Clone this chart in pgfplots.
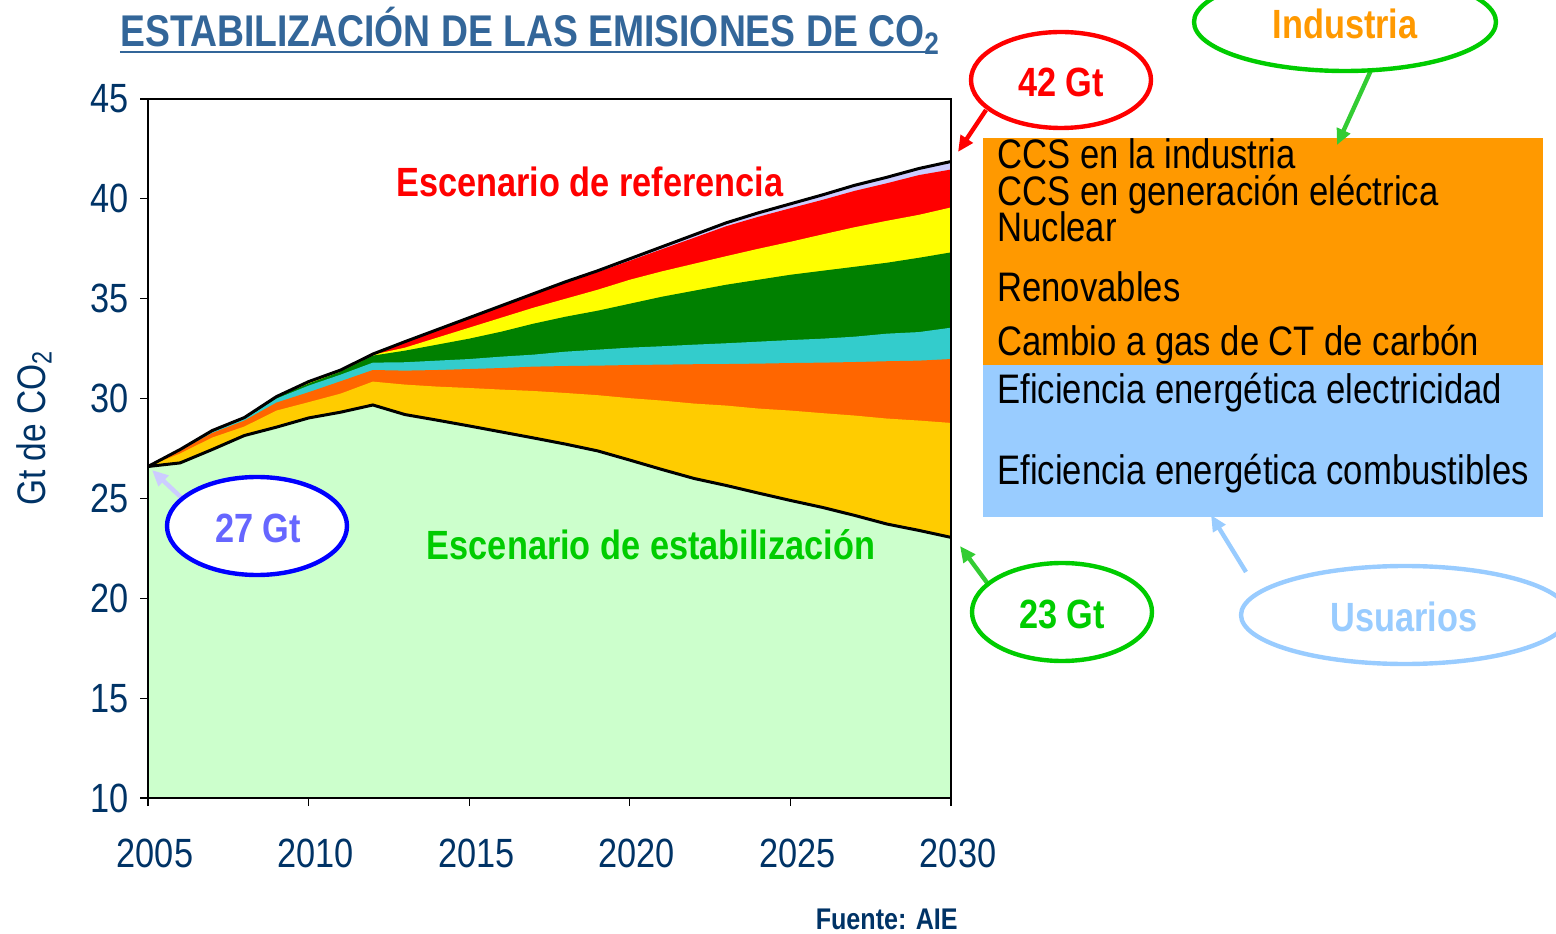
\documentclass[border=0pt]{standalone}
\usepackage{fontspec}
\setmainfont{Liberation Sans}[FakeStretch=0.84]
\usepackage{pgfplots}
\pgfplotsset{compat=1.18}
\usepackage{pgfplotstable}
\usetikzlibrary{arrows.meta}

\definecolor{axisblue}{HTML}{003366}
\definecolor{titleblue}{HTML}{336699}
\definecolor{ltgreen}{HTML}{CCFFCC}
\definecolor{gold}{HTML}{FFCC00}
\definecolor{orng}{HTML}{FF6600}
\definecolor{cyn}{HTML}{33CCCC}
\definecolor{grn}{HTML}{008000}
\definecolor{yel}{HTML}{FFFF00}
\definecolor{rd}{HTML}{FF0000}
\definecolor{lav}{HTML}{CCCCFF}
\definecolor{boxorange}{HTML}{FF9900}
\definecolor{boxblue}{HTML}{99CCFF}
\definecolor{brightgreen}{HTML}{00CC00}
\definecolor{arrowgreen}{HTML}{33CC33}
\definecolor{gtblue}{HTML}{6666FF}

% cumulative upper boundary of each layer (Gt CO2)
\pgfplotstableread{
year base  gold  orange cyan  green yellow red   top
2005 26.60 26.60 26.60  26.60 26.60 26.60  26.60 26.60
2006 26.78 27.25 27.40  27.42 27.43 27.44  27.45 27.45
2007 27.45 28.05 28.28  28.33 28.36 28.38  28.40 28.40
2008 28.15 28.60 28.90  28.98 29.02 29.04  29.05 29.05
2009 28.57 29.40 29.80  30.00 30.06 30.08  30.10 30.10
2010 29.03 29.82 30.32  30.65 30.75 30.80  30.85 30.85
2011 29.32 30.25 30.87  31.20 31.35 31.40  31.43 31.43
2012 29.68 30.85 31.43  31.80 32.15 32.20  32.23 32.23
2013 29.20 30.70 31.40  31.82 32.40 32.55  32.85 32.85
2014 28.92 30.60 31.43  31.90 32.70 33.05  33.45 33.45
2015 28.63 30.53 31.48  31.98 33.00 33.55  34.05 34.05
2016 28.33 30.45 31.53  32.10 33.35 34.05  34.65 34.65
2017 28.03 30.38 31.60  32.20 33.75 34.55  35.23 35.25
2018 27.72 30.28 31.63  32.35 34.10 35.00  35.80 35.85
2019 27.38 30.17 31.65  32.45 34.40 35.45  36.33 36.40
2020 26.92 30.02 31.68  32.55 34.75 35.95  36.90 37.00
2021 26.45 29.90 31.70  32.62 35.10 36.37  37.48 37.60
2022 26.00 29.75 31.72  32.70 35.40 36.75  38.05 38.20
2023 25.65 29.65 31.73  32.77 35.70 37.13  38.63 38.80
2024 25.27 29.50 31.75  32.85 35.95 37.50  39.10 39.30
2025 24.90 29.40 31.78  32.93 36.20 37.85  39.53 39.75
2026 24.55 29.27 31.80  33.00 36.40 38.22  39.95 40.20
2027 24.15 29.15 31.83  33.10 36.60 38.58  40.40 40.68
2028 23.72 29.00 31.87  33.25 36.80 38.90  40.78 41.08
2029 23.40 28.90 31.90  33.33 37.05 39.20  41.19 41.52
2030 23.05 28.78 31.98  33.55 37.32 39.57  41.47 41.87
}\data

\newcommand\fs[1]{\fontsize{#1}{#1}\selectfont}

\begin{document}
\begin{tikzpicture}
\begin{axis}[
  at={(0,0)}, anchor=south west,
  width=401.5bp, height=349.5bp, scale only axis,
  xmin=2005, xmax=2030, ymin=10, ymax=45,
  xtick={2005,2010,...,2030}, ytick={10,15,...,45},
  xtick pos=bottom, ytick pos=left,
  tick align=outside, major tick length=4bp,
  tick style={black, line width=0.6bp},
  axis line style={black, line width=0.8bp},
  /pgf/number format/assume math mode=true,
  /pgf/number format/set thousands separator={},
  ticklabel style={font=\fs{20.5}, text=axisblue},
  xticklabel style={yshift=-13bp, xshift=3.5bp},
  yticklabel style={xshift=-2bp},
  axis on top,
]
\addplot[fill=lav,  draw=none] table[x=year,y=top]    {\data} \closedcycle;
\addplot[fill=rd,   draw=none] table[x=year,y=red]    {\data} \closedcycle;
\addplot[fill=yel,  draw=none] table[x=year,y=yellow] {\data} \closedcycle;
\addplot[fill=grn,  draw=none] table[x=year,y=green]  {\data} \closedcycle;
\addplot[fill=cyn,  draw=none] table[x=year,y=cyan]   {\data} \closedcycle;
\addplot[fill=orng, draw=none] table[x=year,y=orange] {\data} \closedcycle;
\addplot[fill=gold, draw=none] table[x=year,y=gold]   {\data} \closedcycle;
\addplot[fill=ltgreen, draw=none] table[x=year,y=base] {\data} \closedcycle;
\addplot[black, line width=1.5bp] table[x=year,y=top]  {\data};
\addplot[black, line width=1.5bp] table[x=year,y=base] {\data};
\end{axis}

\begin{scope}[x=0.5bp, y=-0.5bp, shift={(-74bp,399bp)}]
  % thicker left/bottom frame as in the reference
  \draw[black, line width=1.3bp] (148,466) -- (148,798) -- (951,798) -- (951,537);
  % title
  \node[anchor=base west, inner sep=0, text=titleblue, font=\fs{22.3}\bfseries]
    at (120,47) {ESTABILIZACIÓN DE LAS EMISIONES DE CO\textsubscript{2}};
  \draw[titleblue, line width=1.2bp] (120,52) -- (937,52);
  % y label
  \node[rotate=90, text=axisblue, font=\fs{20}] at (34,428) {Gt de CO\textsubscript{2}};
  % scenario labels
  \node[text=rd, font=\fs{20.5}\bfseries] at (590,182) {Escenario de referencia};
  \node[text=brightgreen, font=\fs{20.5}\bfseries] at (651,545) {Escenario de estabilización};
  % boxes
  \fill[boxorange] (983,138) rectangle (1543,365);
  \fill[boxblue] (983,365) rectangle (1543,517);
  \begin{scope}[every node/.style={anchor=base west, inner sep=0, font=\fs{20.7}, text=black}]
    \node at (997,169) {CCS en la industria};
    \node at (997,206) {CCS en generación eléctrica};
    \node at (997,242) {Nuclear};
    \node at (997,302) {Renovables};
    \node at (997,356) {Cambio a gas de CT de carbón};
    \node at (997,404) {Eficiencia energética electricidad};
    \node at (997,484) {Eficiencia energética combustibles};
  \end{scope}
  % callouts
  \draw[rd, line width=2.2bp, -{Triangle[length=8bp,width=7bp]}] (986,110) -- (958,152);
  \draw[rd, line width=2.2bp, fill=white] (1061,80) ellipse [x radius=90, y radius=48];
  \node[text=rd, font=\fs{20.5}\bfseries] at (1061,82) {42 Gt};

  \draw[arrowgreen, line width=2.2bp, -{Triangle[length=8bp,width=7bp]}] (1372,68) -- (1337,145);
  \draw[brightgreen, line width=2.2bp, fill=white] (1345,22) ellipse [x radius=151, y radius=49];
  \node[text=boxorange, font=\fs{20.5}\bfseries] at (1345,24) {Industria};

  \draw[lav, line width=2.2bp, -{Triangle[length=8bp,width=7bp]}] (186,502) -- (152,470);
  \draw[blue, line width=2.2bp, fill=white] (257,526) ellipse [x radius=90, y radius=49];
  \node[text=gtblue, font=\fs{20.5}\bfseries] at (258,528) {27 Gt};

  \draw[arrowgreen, line width=2.2bp, -{Triangle[length=8bp,width=7bp]}] (988,584) -- (960,546);
  \draw[brightgreen, line width=2.2bp, fill=white] (1062,612) ellipse [x radius=90, y radius=49];
  \node[text=brightgreen, font=\fs{20.5}\bfseries] at (1062,614) {23 Gt};

  \draw[boxblue, line width=2.2bp, -{Triangle[length=8bp,width=7bp]}] (1246,572) -- (1211,515);
  \draw[boxblue, line width=2.2bp, fill=white] (1405,615) ellipse [x radius=164, y radius=49];
  \node[text=boxblue, font=\fs{20.5}\bfseries] at (1404,617) {Usuarios};

  \node[anchor=base east, inner sep=0, text=axisblue, font=\fs{15}\bfseries] at (958,929) {Fuente: AIE};

  \pgfresetboundingbox
  \path[use as bounding box] (0,0) rectangle (1556,933);
\end{scope}
\end{tikzpicture}
\end{document}
